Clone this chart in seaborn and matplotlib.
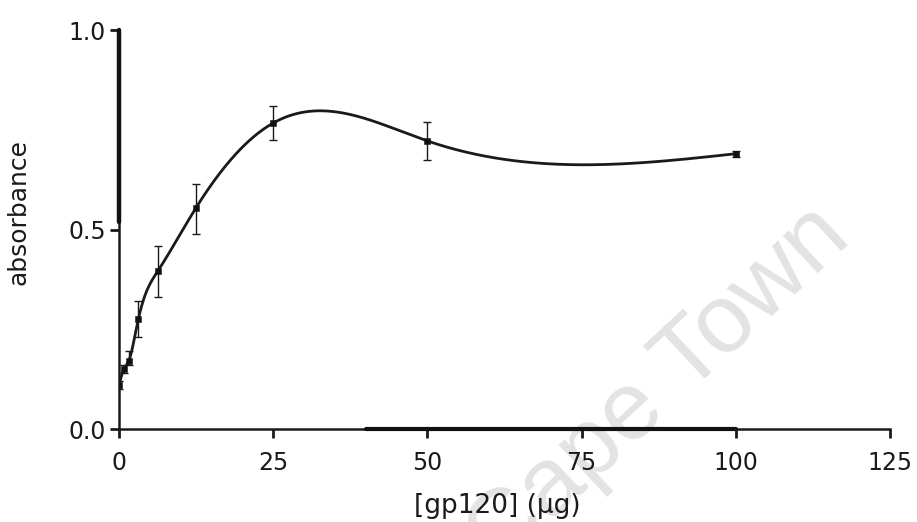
import numpy as np
import pandas as pd
import matplotlib
matplotlib.use("Agg")
import matplotlib.pyplot as plt
import seaborn as sns

# ---- data ----
conc = [0, 0.78, 1.56, 3.125, 6.25, 12.5, 25, 50, 100]
absorbance = [0.11, 0.15, 0.17, 0.275, 0.395, 0.555, 0.767, 0.722, 0.69]
err_up = [0.01, 0.01, 0.025, 0.045, 0.065, 0.06, 0.043, 0.048, 0.008]
err_dn = [0.01, 0.01, 0.01, 0.045, 0.065, 0.065, 0.042, 0.047, 0.008]
x_ticks = [0, 25, 50, 75, 100, 125]
y_ticks = [0.0, 0.5, 1.0]
x_label = "[gp120] (\u00b5g)"
y_label = "absorbance"
watermark = "Cape Town"

df = pd.DataFrame({"conc": conc, "abs": absorbance})


def natural_spline(x, y, xs):
    x = np.asarray(x, float)
    y = np.asarray(y, float)
    n = len(x)
    h = np.diff(x)
    A = np.zeros((n, n))
    r = np.zeros(n)
    A[0, 0] = 1
    A[-1, -1] = 1
    for i in range(1, n - 1):
        A[i, i - 1] = h[i - 1]
        A[i, i] = 2 * (h[i - 1] + h[i])
        A[i, i + 1] = h[i]
        r[i] = 3 * ((y[i + 1] - y[i]) / h[i] - (y[i] - y[i - 1]) / h[i - 1])
    c = np.linalg.solve(A, r)
    b = (y[1:] - y[:-1]) / h - h * (2 * c[:-1] + c[1:]) / 3
    d = (c[1:] - c[:-1]) / (3 * h)
    idx = np.clip(np.searchsorted(x, xs) - 1, 0, n - 2)
    dx = xs - x[idx]
    return y[idx] + b[idx] * dx + c[idx] * dx ** 2 + d[idx] * dx ** 3


xs = np.linspace(conc[0], conc[-1], 800)
curve = pd.DataFrame({"conc": xs, "abs": natural_spline(conc, absorbance, xs)})

sns.set_theme(style="ticks")
plt.rcParams["font.family"] = ["DejaVu Sans"]

fig = plt.figure(figsize=(9.17, 5.22), dpi=100)
ax = fig.add_axes([0.1298, 0.178, 0.8408, 0.7645])
ax.set_zorder(1)
ax.set_facecolor("none")

# watermark (behind everything)
fig.text(0.718, 0.258, watermark, fontsize=70, color="#e3e3e3", rotation=43,
         ha="center", va="center", zorder=-5,
         family=["Liberation Sans", "DejaVu Sans"])

sns.lineplot(data=curve, x="conc", y="abs", ax=ax, color="#1a1a1a", lw=2.0,
             zorder=3)
ax.errorbar(conc, absorbance, yerr=[err_dn, err_up], fmt="none",
            ecolor="#1a1a1a", elinewidth=1.0, capsize=3, capthick=1.0,
            zorder=4)
sns.scatterplot(data=df, x="conc", y="abs", ax=ax, marker="s", s=22,
                color="#111111", edgecolor="#111111", zorder=5)

ax.set_xlim(0, 125)
ax.set_ylim(0, 1.0)
ax.set_xticks(x_ticks)
ax.set_xticklabels([str(t) for t in x_ticks])
ax.set_yticks(y_ticks)
ax.set_yticklabels([f"{t:.1f}" for t in y_ticks])
ax.tick_params(axis="both", length=6.5, width=2, labelsize=17,
               color="#1a1a1a", labelcolor="#1a1a1a")
ax.tick_params(axis="x", pad=9)
ax.tick_params(axis="y", pad=3)

for s in ["top", "right"]:
    ax.spines[s].set_visible(False)
for s in ["left", "bottom"]:
    ax.spines[s].set_linewidth(1.8)
    ax.spines[s].set_color("#1a1a1a")

# thicker stretches of the scanned axes
ax.axvline(0, ymin=0.52, ymax=1.0, color="#111111", lw=3.2, zorder=6,
           clip_on=False)
ax.axhline(0, xmin=0.32, xmax=0.80, color="#111111", lw=3.0, zorder=6,
           clip_on=False)

ax.set_xlabel(x_label, fontsize=19, color="#1a1a1a")
ax.set_ylabel(y_label, fontsize=18, color="#1a1a1a")
ax.xaxis.set_label_coords(0.49, -0.16)
ax.yaxis.set_label_coords(-0.115, 0.545)

fig.savefig("out.png", dpi=100, facecolor="white")
